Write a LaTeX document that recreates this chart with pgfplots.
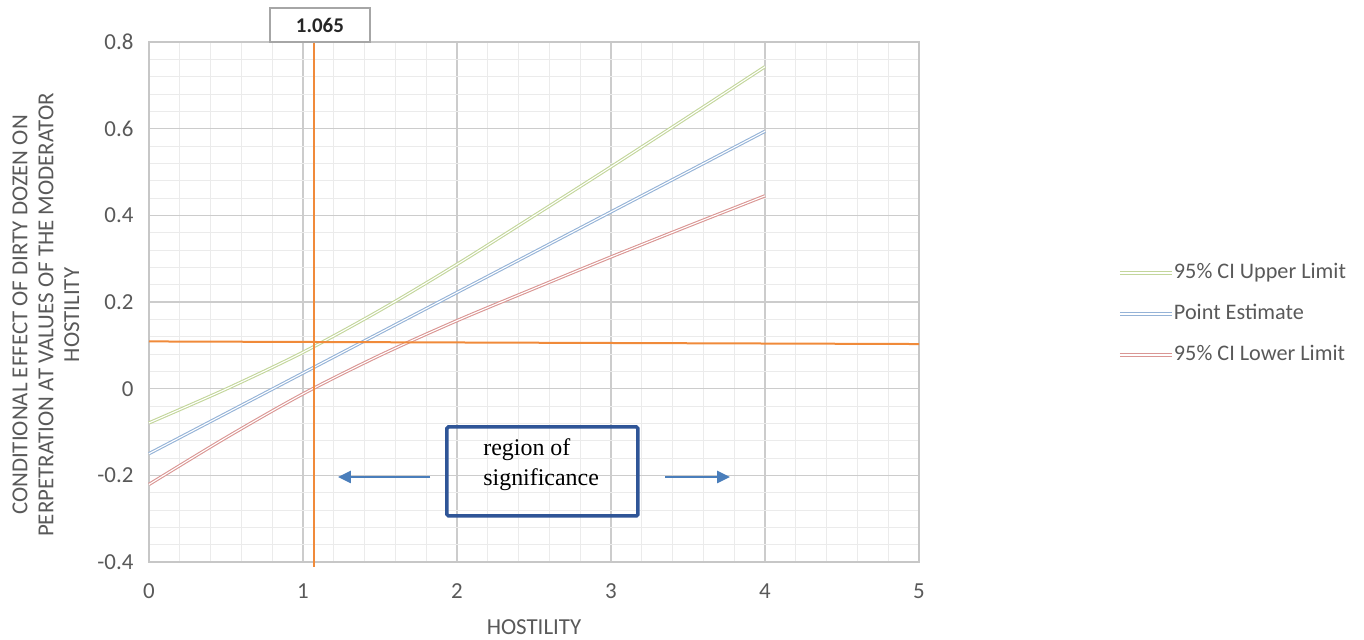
\documentclass[border=0pt]{standalone}
\usepackage{pgfplots}
\pgfplotsset{compat=1.18}
\usetikzlibrary{arrows.meta}
\usepackage{fontspec}
\setmainfont{Carlito}
\newfontfamily\timesf{Liberation Serif}
\definecolor{tickgray}{HTML}{595959}
\definecolor{upcol}{HTML}{C3D69B}
\definecolor{ptcol}{HTML}{95B3D7}
\definecolor{lowcol}{HTML}{DA9694}
\definecolor{orangeln}{HTML}{F08A3A}
\definecolor{boxblue}{HTML}{2F5597}
\definecolor{arrowblue}{HTML}{4A7EBB}
\pgfplotstableread{
x upper point lower
0   -0.079 -0.150 -0.221
0.5 -0.001 -0.057 -0.113
1    0.084  0.036 -0.012
1.5  0.181  0.129  0.077
2    0.287  0.222  0.157
2.5  0.399  0.315  0.231
3    0.512  0.408  0.304
3.5  0.627  0.501  0.375
4    0.743  0.594  0.445
}\datatab
\begin{document}
\begin{tikzpicture}
\path[use as bounding box] (0bp,0bp) rectangle (1364bp,640bp);
\begin{axis}[
  at={(149bp,78bp)}, anchor=south west,
  scale only axis, width=770bp, height=520bp,
  xmin=0, xmax=5, ymin=-0.4, ymax=0.8,
  xtick={0,1,2,3,4,5},
  ytick={-0.4,-0.2,0,0.2,0.4,0.6,0.8},
  yticklabels={-0.4,-0.2,0,0.2,0.4,0.6,0.8},
  minor x tick num=4, minor y tick num=4,
  grid=both,
  major grid style={draw=black!20, line width=1.3bp},
  minor grid style={draw=black!8, line width=1bp},
  axis line style={draw=black!22, line width=1.3bp},
  major tick style={draw=none}, minor tick style={draw=none},
  ticklabel style={font=\fontsize{23}{27}\selectfont, text=tickgray},
  /pgf/number format/assume math mode=true,
  xticklabel style={yshift=-18bp},
  yticklabel style={xshift=-12bp},
  clip=false,
  xlabel={HOSTILITY},
  xlabel style={at={(axis description cs:0.5,-0.125)}, anchor=center, font=\fontsize{23}{27}\selectfont, text=tickgray},
  ylabel={CONDITIONAL EFFECT OF DIRTY DOZEN ON\\PERPETRATION AT VALUES OF THE MODERATOR\\HOSTILITY},
  ylabel style={at={(axis description cs:-0.1338,0.475)}, anchor=center, rotate=0, align=center, font=\fontsize{23}{26}\selectfont, text=tickgray},
  legend image code/.code={\draw[#1] (0bp,0bp) -- (52bp,0bp);},
  legend cell align=left,
  legend style={at={(axis description cs:1.2584,0.477)}, anchor=west, draw=none, fill=none,
    font=\fontsize{22.3}{26}\selectfont, text=tickgray, row sep=19bp, inner sep=0pt,
    nodes={inner sep=0.5bp, text height=16bp, text depth=5bp}},
]
\addplot[draw=upcol, double=white, line width=1.1bp, double distance=1.1bp, smooth] table[x=x, y=upper] {\datatab};
\addlegendentry{95\% CI Upper Limit}
\addplot[draw=ptcol, double=white, line width=1.1bp, double distance=1.1bp, smooth] table[x=x, y=point] {\datatab};
\addlegendentry{Point Estimate}
\addplot[draw=lowcol, double=white, line width=1.1bp, double distance=1.1bp, smooth] table[x=x, y=lower] {\datatab};
\addlegendentry{95\% CI Lower Limit}
% orange reference lines
\draw[orangeln, line width=2bp] (axis cs:1.072,0.8) -- (axis cs:1.072,-0.412);
\draw[orangeln, line width=2bp] (axis cs:0,0.109) -- (axis cs:5,0.103);
% label box
\draw[black!35, line width=1.5bp, fill=white] (axis cs:0.786,0.8) rectangle (axis cs:1.435,0.8786);
\node[font=\fontsize{21}{24}\selectfont\bfseries, text=black!85] at (axis cs:1.11,0.8393) {1.065};
% region box
\draw[boxblue, line width=3.5bp, rounded corners=1.5bp] (axis cs:1.935,-0.0884) rectangle (axis cs:3.175,-0.2938);
\node[anchor=north west, align=left, inner sep=0pt, font=\timesf\fontsize{24}{30}\selectfont, text=black]
  at (axis cs:2.17,-0.116) {region of\\significance};
% arrows
\draw[arrowblue, line width=2.5bp, -{Triangle[length=13bp,width=12bp]}] (axis cs:1.825,-0.2038) -- (axis cs:1.227,-0.2038);
\draw[arrowblue, line width=2.5bp, -{Triangle[length=13bp,width=12bp]}] (axis cs:3.351,-0.2038) -- (axis cs:3.773,-0.2038);
\end{axis}
\end{tikzpicture}
\end{document}
